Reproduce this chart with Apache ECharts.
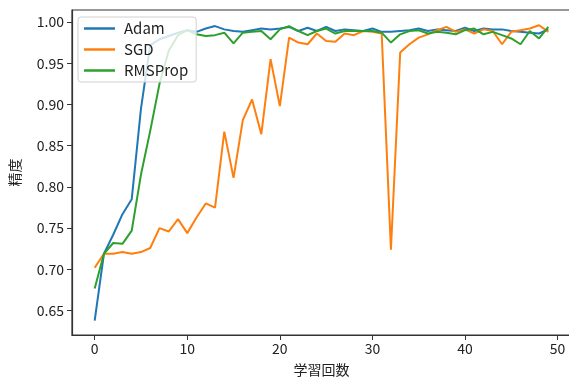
<!DOCTYPE html>
<html>
<head>
<meta charset="utf-8">
<script src="https://cdn.jsdelivr.net/npm/echarts@6/dist/echarts.min.js"></script>
<style>html,body{margin:0;padding:0;background:#fff;}#c{width:569px;height:378px;}</style>
</head>
<body>
<div id="c"></div>
<script>
var epochs = [];
for (var i = 0; i < 50; i++) epochs.push(i);
var xTicks = [0, 10, 20, 30, 40, 50];
var yTicks = [0.65, 0.70, 0.75, 0.80, 0.85, 0.90, 0.95, 1.00];
var adam = [0.638, 0.719, 0.742, 0.767, 0.785, 0.895, 0.972, 0.979, 0.983, 0.987,
            0.990, 0.988, 0.992, 0.995, 0.991, 0.989, 0.988, 0.990, 0.992, 0.991,
            0.992, 0.994, 0.989, 0.993, 0.989, 0.994, 0.989, 0.991, 0.990, 0.989,
            0.992, 0.988, 0.988, 0.989, 0.990, 0.992, 0.989, 0.991, 0.990, 0.989,
            0.993, 0.989, 0.992, 0.991, 0.991, 0.989, 0.988, 0.987, 0.986, 0.991];
var sgd = [0.702, 0.719, 0.719, 0.721, 0.719, 0.721, 0.726, 0.750, 0.746, 0.761,
           0.744, 0.763, 0.780, 0.775, 0.867, 0.811, 0.881, 0.906, 0.864, 0.955,
           0.898, 0.981, 0.975, 0.973, 0.986, 0.977, 0.976, 0.986, 0.984, 0.989,
           0.988, 0.986, 0.724, 0.963, 0.973, 0.981, 0.985, 0.990, 0.994, 0.988,
           0.991, 0.986, 0.991, 0.989, 0.973, 0.988, 0.990, 0.992, 0.996, 0.988];
var rmsprop = [0.677, 0.719, 0.732, 0.731, 0.747, 0.815, 0.868, 0.925, 0.965, 0.984,
               0.990, 0.985, 0.983, 0.984, 0.987, 0.974, 0.987, 0.988, 0.989, 0.979,
               0.991, 0.995, 0.989, 0.984, 0.989, 0.992, 0.986, 0.989, 0.989, 0.989,
               0.989, 0.987, 0.975, 0.985, 0.989, 0.990, 0.986, 0.988, 0.987, 0.985,
               0.990, 0.992, 0.985, 0.988, 0.984, 0.980, 0.973, 0.989, 0.980, 0.994];
var names = ['Adam', 'SGD', 'RMSProp'];
var colors = ['#1f77b4', '#ff7f0e', '#2ca02c'];

function pairs(arr) { return epochs.map(function (e, k) { return [e, arr[k]]; }); }
var font = '"Noto Sans CJK JP", "Noto Sans", sans-serif';
var chart = echarts.init(document.getElementById('c'));
chart.setOption({
  animation: false,
  backgroundColor: '#fff',
  grid: { left: 72, top: 10, width: 499, height: 325, outerBoundsMode: 'none', containLabel: false,
          show: true, borderColor: '#333', borderWidth: 1.2, backgroundColor: 'transparent' },
  legend: {
    orient: 'vertical', left: 78, top: 17, z: 10,
    data: names, icon: 'rect', itemWidth: 31, itemHeight: 2.5, itemGap: 6,
    backgroundColor: 'rgba(255,255,255,0.8)', borderColor: '#d0d0d0', borderWidth: 1, borderRadius: 3,
    padding: [4, 8, 4, 6],
    textStyle: { fontFamily: font, fontSize: 15, color: '#222', padding: [0, 0, 0, 4] }
  },
  xAxis: {
    type: 'value', min: -2.45, max: 51.45,
    name: '学習回数', nameLocation: 'middle', nameGap: 28,
    nameTextStyle: { fontFamily: font, fontSize: 14, color: '#222' },
    axisLine: { show: true, onZero: false, lineStyle: { color: '#333', width: 1.2 } },
    splitLine: { show: false },
    axisTick: { show: true, inside: false, length: 5, lineStyle: { color: '#333' }, customValues: xTicks },
    axisLabel: { fontFamily: font, fontSize: 14, color: '#222', margin: 7, customValues: xTicks, formatter: function (v) { return String(v); } }
  },
  yAxis: {
    type: 'value', min: 0.6205, max: 1.0145,
    name: '精度', nameLocation: 'middle', nameGap: 50,
    nameTextStyle: { fontFamily: font, fontSize: 14, color: '#222' },
    axisLine: { show: true, onZero: false, lineStyle: { color: '#333', width: 1.2 } },
    splitLine: { show: false },
    axisTick: { show: true, inside: false, length: 5, lineStyle: { color: '#333' }, customValues: yTicks },
    axisLabel: { fontFamily: font, fontSize: 14, color: '#222', margin: 8, customValues: yTicks, formatter: function (v) { return v.toFixed(2); } }
  },
  series: [
    { name: names[0], type: 'line', data: pairs(adam), symbol: 'none', lineStyle: { width: 2, color: colors[0] }, itemStyle: { color: colors[0] } },
    { name: names[1], type: 'line', data: pairs(sgd), symbol: 'none', lineStyle: { width: 2, color: colors[1] }, itemStyle: { color: colors[1] } },
    { name: names[2], type: 'line', data: pairs(rmsprop), symbol: 'none', lineStyle: { width: 2, color: colors[2] }, itemStyle: { color: colors[2] } }
  ]
});
</script>
</body>
</html>
